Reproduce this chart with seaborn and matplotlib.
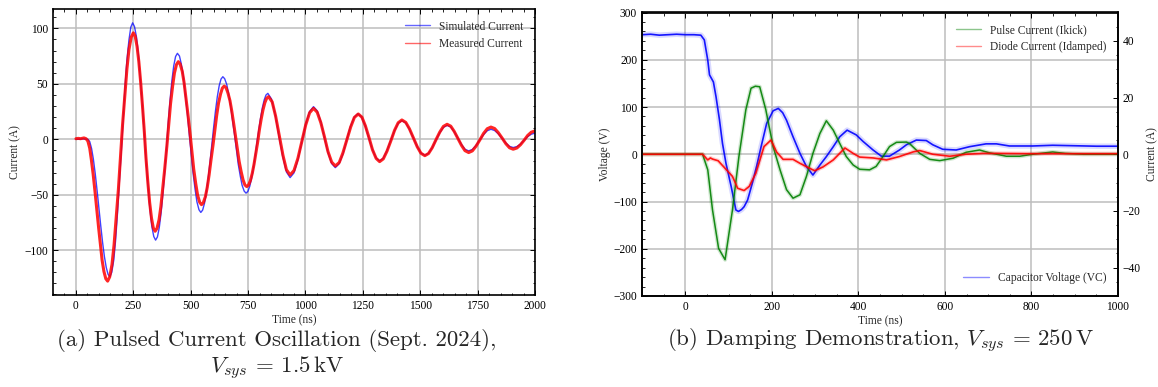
import matplotlib
matplotlib.use("Agg")
import matplotlib.pyplot as plt
from matplotlib.ticker import MultipleLocator, AutoMinorLocator
import seaborn as sns

# ---------------- (a) pulsed current oscillation ----------------
t_sim = [0, 10, 20, 30, 40, 52,
         60, 68, 76, 84, 92, 100, 108, 116, 124, 132, 140, 148,
         156, 165, 173, 181, 189, 198, 206, 214, 222, 231, 239, 247,
         255, 264, 272, 280, 289, 297, 305, 314, 322, 330, 339, 347,
         355, 363, 371, 379, 387, 395, 402, 410, 418, 426, 434, 442,
         451, 459, 468, 476, 485, 493, 502, 510, 519, 527, 536, 544,
         552, 560, 568, 576, 584, 592, 600, 608, 616, 624, 632, 640,
         648, 657, 665, 674, 682, 691, 699, 707, 716, 724, 733, 741,
         749, 757, 765, 773, 781, 788, 796, 804, 812, 820, 828, 836,
         852, 868, 884, 901, 917, 933,
         950, 967, 984, 1001, 1018, 1035,
         1051, 1067, 1082, 1098, 1114, 1130,
         1146, 1163, 1179, 1195, 1212, 1228,
         1244, 1260, 1275, 1291, 1307, 1323,
         1339, 1355, 1371, 1388, 1404, 1420,
         1437, 1453, 1470, 1487, 1503, 1520,
         1536, 1552, 1568, 1585, 1601, 1617,
         1633, 1648, 1664, 1680, 1695, 1711,
         1727, 1743, 1759, 1776, 1792, 1808,
         1824, 1840, 1856, 1873, 1889, 1905,
         1921, 1937, 1952, 1968, 1984, 2000]
i_sim = [0, 0, 0, 0.5, 0, 0,
         -2.1, -8.3, -18.1, -31, -46, -62, -78, -93, -105.9, -115.7, -121.9, -124,
         -120.1, -108.7, -90.6, -66.8, -39, -9.5, 20, 47.8, 71.6, 89.7, 101.1, 105,
         101.7, 91.9, 76.4, 56, 32.3, 7, -18.3, -42, -62.4, -77.9, -87.7, -91,
         -88.1, -79.7, -66.4, -48.9, -28.5, -6.8, 15, 35.4, 52.9, 66.2, 74.6, 77.5,
         75.1, 67.9, 56.5, 41.6, 24.3, 5.8, -12.8, -30.1, -45.1, -56.4, -63.6, -66,
         -63.9, -57.8, -48.1, -35.4, -20.6, -4.8, 11, 25.8, 38.5, 48.2, 54.3, 56.4,
         54.6, 49.4, 41.1, 30.2, 17.4, 3.9, -9.6, -22.4, -33.3, -41.6, -46.8, -48.6,
         -47.1, -42.6, -35.5, -26.1, -15.2, -3.6, 8, 18.9, 28.3, 35.4, 39.9, 41.4,
         36.3, 22.4, 3.4, -15.6, -29.5, -34.6,
         -30.3, -18.6, -2.6, 13.4, 25.1, 29.4,
         25.7, 15.7, 1.9, -11.9, -21.9, -25.6,
         -22.3, -13.5, -1.3, 10.9, 19.7, 23,
         20.2, 12.4, 1.8, -8.9, -16.7, -19.5,
         -17.1, -10.4, -1.4, 7.7, 14.4, 16.8,
         14.7, 9, 1.2, -6.7, -12.4, -14.5,
         -12.7, -7.8, -1, 5.8, 10.7, 12.5,
         11, 6.8, 1, -4.8, -9, -10.5,
         -9.2, -5.6, -0.8, 4.1, 7.7, 9,
         7.9, 4.9, 0.8, -3.4, -6.4, -7.5,
         -6.6, -4.3, -1, 2.3, 4.6, 5.5]

t_meas = [0, 10, 20, 30, 35, 44,
          52, 60, 67, 75, 83, 91, 99, 107, 114, 122, 130, 138,
          147, 157, 166, 175, 185, 194, 203, 213, 222, 231, 241, 250,
          258, 266, 274, 282, 290, 298, 305, 313, 321, 329, 337, 345,
          353, 362, 370, 378, 387, 396, 404, 412, 421, 429, 438, 446,
          454, 463, 471, 479, 488, 497, 505, 513, 522, 530, 539, 547,
          555, 564, 572, 580, 588, 597, 605, 613, 621, 630, 638, 646,
          654, 662, 671, 679, 687, 695, 703, 711, 720, 728, 736, 744,
          752, 760, 768, 776, 784, 792, 799, 807, 815, 823, 831, 839,
          855, 870, 886, 902, 917, 933,
          950, 967, 984, 1001, 1018, 1035,
          1051, 1067, 1083, 1098, 1114, 1130,
          1147, 1163, 1180, 1197, 1213, 1230,
          1246, 1261, 1277, 1292, 1308, 1323,
          1339, 1355, 1372, 1388, 1404, 1420,
          1437, 1453, 1470, 1487, 1503, 1520,
          1536, 1552, 1568, 1585, 1601, 1617,
          1633, 1648, 1664, 1680, 1695, 1711,
          1727, 1743, 1760, 1776, 1792, 1808,
          1824, 1840, 1857, 1873, 1889, 1905,
          1921, 1937, 1953, 1968, 1984, 2000]
i_meas = [0.5, 0.8, 0.5, 1, 1.2, 0.5,
          -1.7, -8.1, -18.3, -31.6, -47.2, -63.8, -80.3, -95.9, -109.2, -119.4, -125.8, -128,
          -124.2, -113, -95.3, -72, -44.9, -16, 12.9, 40, 63.3, 81, 92.2, 96,
          93, 84, 69.9, 51.3, 29.6, 6.5, -16.6, -38.3, -56.9, -71, -80, -83,
          -80.4, -72.7, -60.7, -44.8, -26.2, -6.5, 13.2, 31.8, 47.7, 59.7, 67.4, 70,
          67.8, 61.4, 51.2, 37.8, 22.1, 5.5, -11.1, -26.8, -40.2, -50.4, -56.8, -59,
          -57.2, -51.8, -43.4, -32.3, -19.3, -5.5, 8.3, 21.3, 32.4, 40.8, 46.2, 48,
          46.5, 41.9, 34.8, 25.3, 14.4, 2.7, -9.1, -20, -29.5, -36.6, -41.2, -42.7,
          -41.3, -37.3, -30.9, -22.4, -12.6, -2.2, 8.3, 18.1, 26.6, 33, 37, 38.4,
          33.7, 20.8, 3.1, -14.6, -27.5, -32.2,
          -28.2, -17.2, -2.2, 12.9, 23.9, 27.9,
          24.4, 14.9, 1.9, -11.1, -20.6, -24.1,
          -21, -12.4, -0.7, 11.1, 19.7, 22.8,
          19.9, 12.1, 1.3, -9.5, -17.3, -20.2,
          -17.7, -10.8, -1.4, 8, 14.9, 17.4,
          15.2, 9.4, 1.3, -6.8, -12.6, -14.8,
          -12.9, -7.7, -0.7, 6.4, 11.6, 13.5,
          11.8, 7.1, 0.8, -5.6, -10.3, -12,
          -10.5, -6.3, -0.5, 5.3, 9.5, 11,
          9.7, 6, 1, -4, -7.7, -9,
          -7.9, -4.9, -0.8, 3.4, 6.4, 7.5]

# ---------------- (b) damping demonstration ----------------
t_vc = [-100, -80, -60, -40, -20, 0, 20, 36, 44, 52, 56, 65, 71, 79, 86, 94,
        106, 117, 123, 130, 136, 144, 155, 165, 175, 188, 203, 215, 225, 234,
        249, 265, 280, 295, 311, 326, 342, 357, 374, 395, 411, 434, 453, 472,
        495, 511, 534, 557, 572, 595, 626, 657, 695, 719, 749, 803, 849, 900,
        950, 1000]
v_vc = [253, 254, 252, 253, 254, 253, 253, 252, 242, 199, 168, 153, 122, 73,
        23, -19, -68, -118, -121, -117, -111, -97, -61, -25, 15, 65, 92, 97,
        88, 72, 37, 2, -26, -44, -23, -5, 16, 37, 51, 41, 27, 9, -4, -4, 9,
        20, 30, 29, 20, 10.5, 9, 16, 22, 22, 17.5, 17.5, 19, 18, 17, 17]

t_kick = [-100, -60, -20, 0, 20, 40, 52, 63, 77, 92, 109, 124, 140, 152, 162,
          172, 186, 203, 219, 234, 249, 265, 280, 295, 311, 326, 342, 357,
          372, 388, 403, 426, 441, 457, 472, 488, 511, 518, 542, 565, 588,
          619, 649, 680, 703, 742, 773, 803, 849, 878, 920, 1000]
i_kick = [0, 0, 0, 0, 0, 0, -5.5, -19.7, -33.2, -37.2, -19.7, -0.8, 15.7,
          23.3, 24, 23.8, 15.8, 2.7, -5.5, -12.5, -15.5, -14.3, -7.8, 0.3,
          7.3, 11.8, 8.5, 3.8, -0.8, -3.8, -5.3, -5.5, -4.3, -0.8, 2.7, 4.2,
          4.3, 3.8, 0.3, -1.8, -2.25, -1.4, 0.7, 1.5, 0.5, -0.7, -0.7, 0,
          0.8, 0.3, 0, 0]

t_damp = [-100, -60, -20, 0, 20, 40, 52, 58, 63, 76, 94, 109, 121, 136, 148,
          163, 182, 198, 211, 226, 249, 265, 288, 299, 318, 342, 369, 388,
          403, 434, 465, 495, 526, 542, 572, 611, 649, 688, 726, 803, 900,
          1000]
i_damp = [0, 0, 0, 0, 0, 0, -2, -1.3, -1.7, -2.3, -5.3, -7.8, -12, -12.8,
          -11.3, -6.7, 2.7, 5, 0.8, -1.8, -1.8, -3.2, -5, -5.8, -4.5, -2, 2.2,
          0.3, -1, -1.3, -2, -0.8, 0.8, 1.3, 0, -0.7, 0, 0.3, 0.3, 0.2, 0.2,
          0.2]

# ---------------- style ----------------
sns.set_theme(style="ticks")
FS = 8.3
plt.rcParams.update({
    "font.family": ["Liberation Serif", "DejaVu Serif"],
    "mathtext.fontset": "cm",
    "font.size": FS,
    "xtick.direction": "in",
    "ytick.direction": "in",
    "xtick.top": True,
    "ytick.right": True,
    "xtick.minor.visible": True,
    "ytick.minor.visible": True,
    "xtick.major.size": 3.5,
    "ytick.major.size": 3.5,
    "xtick.minor.size": 1.8,
    "ytick.minor.size": 1.8,
    "xtick.major.width": 0.7,
    "ytick.major.width": 0.7,
    "xtick.minor.width": 0.6,
    "ytick.minor.width": 0.6,
    "xtick.color": "black",
    "ytick.color": "black",
    "xtick.labelsize": FS,
    "ytick.labelsize": FS,
    "axes.edgecolor": "black",
    "axes.linewidth": 1.2,
    "axes.labelsize": FS,
    "grid.color": "#bdbdbd",
    "grid.linewidth": 1.1,
    "legend.frameon": False,
    "legend.fontsize": FS,
})

fig = plt.figure(figsize=(11.58, 3.87), dpi=100)
W, H = 1158, 387
ax1 = fig.add_axes([53 / W, 1 - 295 / H, 482 / W, 286 / H])
ax2 = fig.add_axes([642 / W, 1 - 296 / H, 476 / W, 283.5 / H])

# ---- panel (a)
sns.lineplot(x=t_sim, y=i_sim, ax=ax1, color="blue", linewidth=1.0, alpha=0.75,
             label="Simulated Current", sort=False, estimator=None)
sns.lineplot(x=t_meas, y=i_meas, ax=ax1, color="red", linewidth=2.2, alpha=0.85,
             label="Measured Current", sort=False, estimator=None)
ax1.set_xlim(-100, 2000)
ax1.set_ylim(-140.5, 117.5)
ax1.xaxis.set_major_locator(MultipleLocator(250))
ax1.xaxis.set_minor_locator(AutoMinorLocator(5))
ax1.yaxis.set_major_locator(MultipleLocator(50))
ax1.yaxis.set_minor_locator(AutoMinorLocator(5))
ax1.grid(True, which="major")
ax1.set_axisbelow(True)
ax1.set_xlabel("Time (ns)", labelpad=2)
ax1.set_ylabel("Current (A)", labelpad=2)
leg1 = ax1.legend(loc="upper right", handlelength=2.2, borderaxespad=0.6,
                  labelspacing=0.45)
for h in leg1.legend_handles:
    h.set_linewidth(1.0)
    h.set_alpha(0.6)

# ---- panel (b)
ax2r = ax2.twinx()
sns.lineplot(x=t_vc, y=v_vc, ax=ax2, color="blue", linewidth=4, alpha=0.15,
             label="Capacitor Voltage (VC)", sort=False, estimator=None)
sns.lineplot(x=t_vc, y=v_vc, ax=ax2, color="blue", linewidth=1.2, alpha=0.9,
             sort=False, estimator=None)
sns.lineplot(x=t_kick, y=i_kick, ax=ax2r, color="green", linewidth=3, alpha=0.18,
             label="Pulse Current (Ikick)", sort=False, estimator=None)
sns.lineplot(x=t_kick, y=i_kick, ax=ax2r, color="green", linewidth=1.1, alpha=0.9,
             sort=False, estimator=None)
sns.lineplot(x=t_damp, y=i_damp, ax=ax2r, color="red", linewidth=3, alpha=0.18,
             label="Diode Current (Idamped)", sort=False, estimator=None)
sns.lineplot(x=t_damp, y=i_damp, ax=ax2r, color="red", linewidth=1.2, alpha=0.9,
             sort=False, estimator=None)

ax2.set_xlim(-100, 1000)
ax2.set_ylim(-300, 300)
ax2r.set_ylim(-50, 50)
ax2.xaxis.set_major_locator(MultipleLocator(200))
ax2.xaxis.set_minor_locator(AutoMinorLocator(4))
ax2.yaxis.set_major_locator(MultipleLocator(100))
ax2.yaxis.set_minor_locator(AutoMinorLocator(5))
ax2r.yaxis.set_major_locator(MultipleLocator(20))
ax2r.yaxis.set_minor_locator(AutoMinorLocator(4))
ax2.tick_params(axis="y", right=False, which="both")
ax2r.tick_params(axis="y", direction="in", which="both")
ax2.grid(True, which="major")
ax2.set_axisbelow(True)
ax2r.grid(False)
ax2.set_xlabel("Time (ns)", labelpad=2)
ax2.set_ylabel("Voltage (V)", labelpad=2)
ax2r.set_ylabel("Current (A)", labelpad=4)

leg2 = ax2r.legend(loc="upper right", handlelength=2.2, borderaxespad=0.6,
                   labelspacing=0.45)
leg3 = ax2.legend(loc="lower right", handlelength=2.2, borderaxespad=0.6)
for lg in (leg2, leg3):
    for h in lg.legend_handles:
        h.set_linewidth(1.0)
        h.set_alpha(0.45)

# ---- captions
cap = dict(ha="center", va="center", fontsize=16.5, family="cmr10")
fig.text(277 / W, 1 - 341 / H, "(a) Pulsed Current Oscillation (Sept. 2024),", **cap)
fig.text(277 / W, 1 - 368 / H, r"$V_{sys}$ = 1.5$\,$kV", **cap)
fig.text(880 / W, 1 - 341 / H, r"(b) Damping Demonstration, $V_{sys}$ = 250$\,$V", **cap)

fig.savefig("out.png", dpi=100)
